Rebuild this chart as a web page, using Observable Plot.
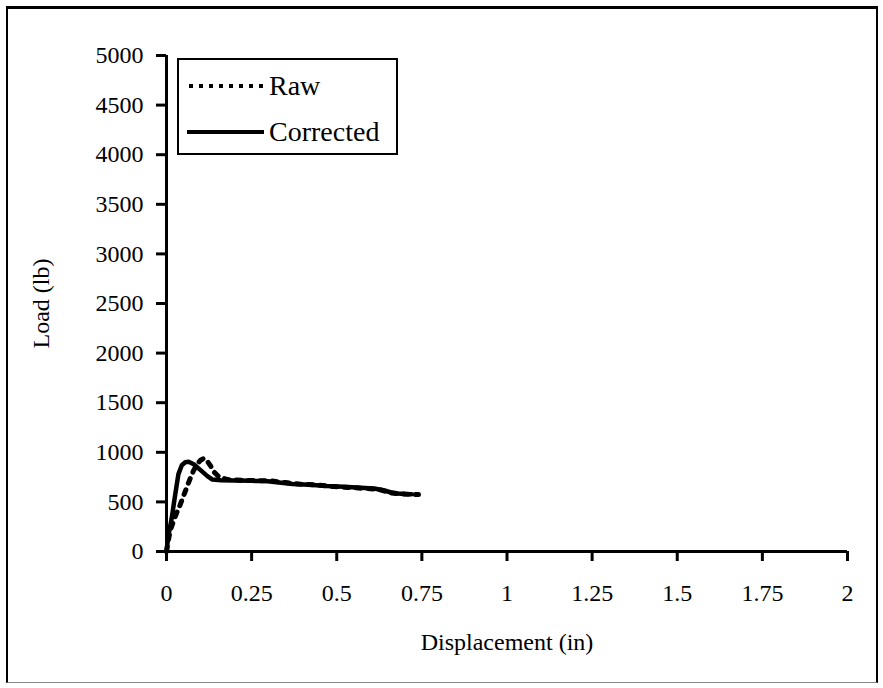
<!DOCTYPE html>
<html>
<head>
<meta charset="utf-8">
<script src="https://cdn.jsdelivr.net/npm/d3@7"></script>
<script src="https://cdn.jsdelivr.net/npm/@observablehq/plot@0.6"></script>
<style>
  html, body { margin: 0; padding: 0; background: #fff; }
  #wrap { position: relative; width: 883px; height: 688px; overflow: hidden; font-family: "Liberation Serif", "DejaVu Serif", serif; }
  #frame { position: absolute; left: 6px; top: 6px; width: 868px; height: 673px; border-left: 2px solid #000; border-top: 3px solid #000; border-right: 2px solid #000; border-bottom: 1px solid #888; pointer-events: none; }
  #legend { position: absolute; left: 177px; top: 58px; width: 217px; height: 93px; border: 2px solid #000; background: #fff; font-size: 28px; color: #000; }
  .row { position: absolute; left: 8px; display: flex; align-items: center; }
  .row span { margin-left: 5px; }
</style>
</head>
<body>
<div id="wrap">
  <div id="chart"></div>
  <div id="frame"></div>
  <div id="legend">
    <div class="row" style="top:10px"><svg width="77" height="20"><line x1="2" y1="10" x2="76" y2="10" stroke="#000" stroke-width="4" stroke-dasharray="4,6"/></svg><span>Raw</span></div>
    <div class="row" style="top:56px"><svg width="77" height="20"><line x1="0" y1="10" x2="77" y2="10" stroke="#000" stroke-width="4"/></svg><span>Corrected</span></div>
  </div>
</div>
<script>
// Corrected series (displacement in, load lb)
const correctedX = [0, 0.005, 0.015, 0.025, 0.035, 0.045, 0.055, 0.065, 0.08, 0.1, 0.12, 0.135, 0.16, 0.2, 0.25, 0.29, 0.33, 0.37, 0.42, 0.47, 0.52, 0.57, 0.61, 0.64, 0.66, 0.68, 0.7, 0.72];
const correctedY = [0, 150, 330, 560, 780, 870, 900, 905, 880, 820, 760, 725, 718, 715, 712, 710, 695, 680, 672, 660, 652, 643, 635, 615, 595, 585, 580, 578];
// Raw series
const rawX = [0, 0.01, 0.02, 0.03, 0.04, 0.05, 0.06, 0.07, 0.08, 0.09, 0.1, 0.11, 0.12, 0.13, 0.14, 0.155, 0.18, 0.22, 0.27, 0.31, 0.35, 0.39, 0.44, 0.49, 0.54, 0.59, 0.63, 0.66, 0.69, 0.72, 0.74];
const rawY = [0, 200, 300, 390, 470, 560, 650, 740, 820, 880, 920, 940, 910, 860, 800, 750, 725, 718, 714, 710, 695, 680, 670, 655, 645, 635, 620, 590, 580, 575, 575];
// Tick values
const xTicks = [0, 0.25, 0.5, 0.75, 1, 1.25, 1.5, 1.75, 2];
const yTicks = [0, 500, 1000, 1500, 2000, 2500, 3000, 3500, 4000, 4500, 5000];

const corrected = correctedX.map((x, i) => ({x, y: correctedY[i]}));
const raw = rawX.map((x, i) => ({x, y: rawY[i]}));

const chart = Plot.plot({
  width: 883,
  height: 688,
  marginLeft: 166,
  marginRight: 36,
  marginTop: 55,
  marginBottom: 137,
  style: {fontFamily: "'Liberation Serif', serif", fontSize: "24px", color: "#000", background: "transparent"},
  x: {domain: [0, 2]},
  y: {domain: [0, 5000]},
  marks: [
    Plot.axisX({ticks: xTicks, tickFormat: d => String(d), tickSize: 10, tickPadding: 22, strokeWidth: 3, label: "Displacement (in)", labelAnchor: "center", labelOffset: 98, labelArrow: "none", fontSize: 24}),
    Plot.axisY({ticks: yTicks, tickFormat: d => String(d), tickSize: 10, tickPadding: 13, strokeWidth: 3, label: "Load (lb)", labelAnchor: "center", labelOffset: 135, labelArrow: "none", fontSize: 24}),
    Plot.ruleX([0], {stroke: "#000", strokeWidth: 3}),
    Plot.ruleY([0], {stroke: "#000", strokeWidth: 3}),
    Plot.line(raw, {x: "x", y: "y", stroke: "#000", strokeWidth: 5, strokeDasharray: "5,7", curve: "linear"}),
    Plot.line(corrected, {x: "x", y: "y", stroke: "#000", strokeWidth: 4.5, curve: "linear"})
  ]
});
document.getElementById("chart").appendChild(chart);
</script>
</body>
</html>
